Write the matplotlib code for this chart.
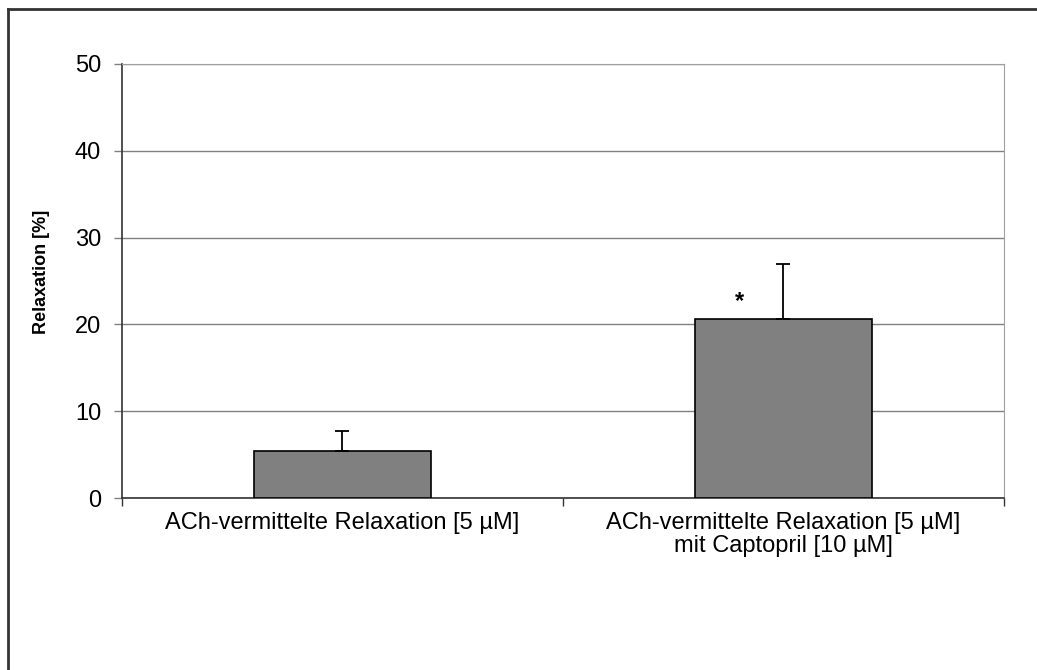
import matplotlib.pyplot as plt
from matplotlib.lines import Line2D
import numpy as np

plt.rcParams['font.family'] = ['Liberation Sans', 'DejaVu Sans']

categories = ["ACh-vermittelte Relaxation [5 µM]",
              "ACh-vermittelte Relaxation [5 µM]\nmit Captopril [10 µM]"]
values = [5.4, 20.6]
errors = [2.35, 6.4]
marks = ["", "*"]

fig = plt.figure(figsize=(10.37, 6.70), dpi=100)
ax = fig.add_axes([0.1176, 0.2567, 0.8505, 0.6478])

x = np.arange(len(categories))
ax.bar(x, values, width=0.4, color='#808080', edgecolor='black', linewidth=1.2, zorder=3)
ax.errorbar(x, values, yerr=[np.zeros(len(errors)), errors], fmt='none',
            ecolor='black', elinewidth=1.3, capsize=5, capthick=1.3, zorder=4)
for xi, v, e, m in zip(x, values, errors, marks):
    if m:
        ax.text(xi - 0.1, v + 0.7, m, ha='center', va='bottom', fontsize=17, fontweight='bold')

ax.set_xlim(-0.5, 1.5)
ax.set_ylim(0, 50)
ax.set_yticks(range(0, 51, 10))
ax.yaxis.grid(True, color='#808080', linewidth=1, zorder=0)
ax.set_xticks([-0.5, 0.5, 1.5], minor=False)
ax.set_xticklabels([])
ax.set_xticks(x, minor=True)
ax.set_xticklabels(categories, minor=True, fontsize=17, linespacing=1.05)
ax.tick_params(axis='x', which='minor', length=0, pad=10)
ax.tick_params(axis='x', which='major', length=6, width=1, color='#333333')
ax.tick_params(axis='y', length=6, width=1, color='#808080', labelsize=17, pad=9)
for lbl in ax.get_xticklabels(minor=True):
    lbl.set_multialignment('center')

ax.set_ylabel("Relaxation [%]", fontsize=13, fontweight='bold')
ax.yaxis.set_label_coords(-0.082, 0.52)

ax.spines['left'].set_color('#333333')
ax.spines['bottom'].set_color('#333333')
ax.spines['top'].set_color('#a0a0a0')
ax.spines['right'].set_color('#a0a0a0')
ax.spines['left'].set_linewidth(1.2)
ax.spines['bottom'].set_linewidth(1.2)

# outer frame (top and left only)
fig.add_artist(Line2D([8 / 1037, 1.0], [1 - 9 / 670, 1 - 9 / 670], color='#333333', linewidth=2))
fig.add_artist(Line2D([8 / 1037, 8 / 1037], [0, 1 - 9 / 670], color='#333333', linewidth=2))

fig.savefig('out.png', dpi=100)
